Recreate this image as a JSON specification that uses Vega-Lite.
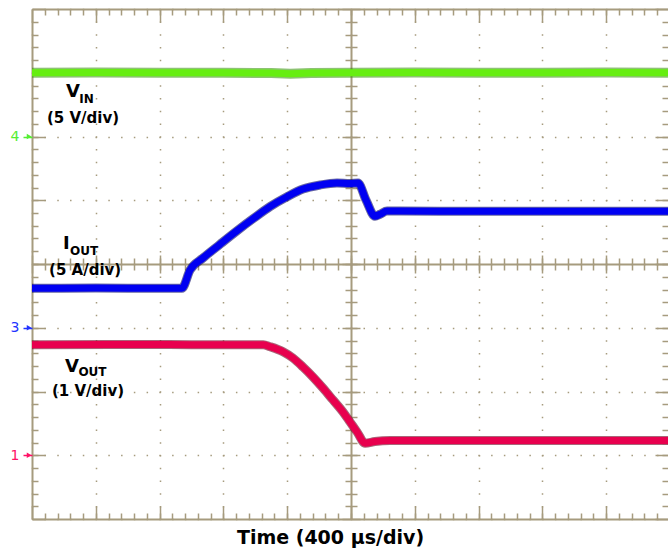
{
  "$schema": "https://vega.github.io/schema/vega-lite/v6.json",
  "width": 636,
  "height": 510,
  "autosize": {"type": "none"},
  "padding": {"left": 32, "top": 9, "right": 0, "bottom": 29},
  "background": "white",
  "config": {
    "view": {"stroke": null},
    "axis": {
      "domainColor": "#a69b7e",
      "tickColor": "#a69b7e",
      "gridColor": "#a69b7e",
      "domainWidth": 2,
      "tickWidth": 1.5,
      "labels": false,
      "grid": false,
      "domain": false,
      "ticks": true
    }
  },
  "datasets": {
    "vin": [
      {"t": 0, "v": 7.0}, {"t": 400, "v": 7.005}, {"t": 800, "v": 7.0}, {"t": 1200, "v": 7.0},
      {"t": 1500, "v": 6.995}, {"t": 1620, "v": 6.985}, {"t": 1750, "v": 6.995}, {"t": 2000, "v": 7.0},
      {"t": 2400, "v": 7.005}, {"t": 2800, "v": 7.0}, {"t": 3200, "v": 7.0}, {"t": 3600, "v": 7.005},
      {"t": 3987.5, "v": 7.0}
    ],
    "iout": [
      {"t": 0, "v": 3.62}, {"t": 400, "v": 3.622}, {"t": 800, "v": 3.62}, {"t": 940, "v": 3.62},
      {"t": 991, "v": 3.906}, {"t": 1072, "v": 4.094}, {"t": 1179, "v": 4.31}, {"t": 1285, "v": 4.52},
      {"t": 1386, "v": 4.71}, {"t": 1492, "v": 4.9}, {"t": 1599, "v": 5.055}, {"t": 1699, "v": 5.176},
      {"t": 1806, "v": 5.239}, {"t": 1912, "v": 5.271}, {"t": 1994, "v": 5.264}, {"t": 2044, "v": 5.27},
      {"t": 2094, "v": 5.004}, {"t": 2150, "v": 4.75}, {"t": 2182, "v": 4.78}, {"t": 2226, "v": 4.83},
      {"t": 2307, "v": 4.83}, {"t": 2800, "v": 4.828}, {"t": 3400, "v": 4.828}, {"t": 3987.5, "v": 4.826}
    ],
    "vout": [
      {"t": 0, "v": 2.735}, {"t": 500, "v": 2.737}, {"t": 1000, "v": 2.735}, {"t": 1450, "v": 2.733},
      {"t": 1492, "v": 2.703}, {"t": 1574, "v": 2.624}, {"t": 1636, "v": 2.525}, {"t": 1699, "v": 2.384},
      {"t": 1762, "v": 2.227}, {"t": 1824, "v": 2.055}, {"t": 1887, "v": 1.867}, {"t": 1950, "v": 1.678},
      {"t": 1994, "v": 1.522}, {"t": 2038, "v": 1.365}, {"t": 2088, "v": 1.19}, {"t": 2150, "v": 1.215},
      {"t": 2245, "v": 1.23}, {"t": 2600, "v": 1.232}, {"t": 3200, "v": 1.23}, {"t": 3987.5, "v": 1.231}
    ],
    "big": [
      {"txt": "V", "t": 213, "v": 6.62},
      {"txt": "I", "t": 194, "v": 4.235},
      {"txt": "V", "t": 207, "v": 2.306}
    ],
    "sub": [
      {"txt": "IN", "t": 297, "v": 6.525},
      {"txt": "OUT", "t": 238, "v": 4.141},
      {"txt": "OUT", "t": 291, "v": 2.243}
    ],
    "unit": [
      {"txt": "(5 V/div)", "t": 94, "v": 6.212},
      {"txt": "(5 A/div)", "t": 107, "v": 3.827},
      {"txt": "(1 V/div)", "t": 125, "v": 1.929}
    ],
    "markers": [
      {"ch": "4", "t": -18, "v": 6},
      {"ch": "3", "t": -18, "v": 3},
      {"ch": "1", "t": -18, "v": 1}
    ]
  },
  "resolve": {"axis": {"x": "independent", "y": "independent"}},
  "layer": [
    {
      "data": {"name": "vin"},
      "mark": {"type": "line", "color": "#2f8f00", "strokeWidth": 10, "opacity": 0.55, "clip": true},
      "encoding": {
        "x": {"field": "t", "type": "quantitative", "scale": {"domain": [0, 3987.5], "nice": false, "zero": false},
          "axis": {"orient": "bottom", "values": [0, 400, 800, 1200, 1600, 2000, 2400, 2800, 3200, 3600], "domain": true, "tickSize": -13,
            "grid": true, "gridDash": [1.5, 11.25], "gridDashOffset": 0.75, "gridWidth": 1.5,
            "title": "Time (400 µs/div)", "titleX": 298, "titleY": 24, "titleAlign": "center", "titleBaseline": "alphabetic",
            "titleFont": "DejaVu Sans", "titleFontWeight": "bold", "titleFontSize": 19, "titleColor": "#000000", "titlePadding": 0}},
        "y": {"field": "v", "type": "quantitative", "scale": {"domain": [0, 8], "nice": false, "zero": false},
          "axis": {"orient": "left", "values": [0, 1, 2, 3, 4, 5, 6, 7, 8], "domain": true, "tickSize": -13,
            "grid": true, "gridDash": [1.5, 11.26], "gridDashOffset": 0.75, "gridWidth": 1.5, "title": null}}
      }
    },
    {
      "data": {"name": "vin"},
      "mark": {"type": "line", "color": "#66ee11", "strokeWidth": 7, "clip": true},
      "encoding": {
        "x": {"field": "t", "type": "quantitative", "scale": {"domain": [0, 3987.5], "nice": false, "zero": false},
          "axis": {"orient": "bottom", "values": [80,160,240,320,400,480,560,640,720,800,880,960,1040,1120,1200,1280,1360,1440,1520,1600,1680,1760,1840,1920,2000,2080,2160,2240,2320,2400,2480,2560,2640,2720,2800,2880,2960,3040,3120,3200,3280,3360,3440,3520,3600,3680,3760,3840,3920], "tickSize": -6, "title": null}},
        "y": {"field": "v", "type": "quantitative", "scale": {"domain": [0, 8], "nice": false, "zero": false},
          "axis": {"orient": "left", "values": [0.2,0.4,0.6,0.8,1,1.2,1.4,1.6,1.8,2,2.2,2.4,2.6,2.8,3,3.2,3.4,3.6,3.8,4,4.2,4.4,4.6,4.8,5,5.2,5.4,5.6,5.8,6,6.2,6.4,6.6,6.8,7,7.2,7.4,7.6,7.8], "tickSize": -6, "title": null}}
      }
    },
    {
      "data": {"name": "iout"},
      "mark": {"type": "line", "color": "#000066", "strokeWidth": 9, "opacity": 0.6, "clip": true, "interpolate": "monotone"},
      "encoding": {
        "x": {"field": "t", "type": "quantitative", "scale": {"domain": [0, 3987.5], "nice": false, "zero": false},
          "axis": {"orient": "top", "values": [0, 400, 800, 1200, 1600, 2000, 2400, 2800, 3200, 3600], "domain": true, "tickSize": -13, "title": null}},
        "y": {"field": "v", "type": "quantitative", "scale": {"domain": [0, 8], "nice": false, "zero": false},
          "axis": {"orient": "right", "values": [0, 1, 2, 3, 4, 5, 6, 7, 8], "tickSize": -13, "title": null}}
      }
    },
    {
      "data": {"name": "iout"},
      "mark": {"type": "line", "color": "#0000f2", "strokeWidth": 7, "clip": true, "interpolate": "monotone"},
      "encoding": {
        "x": {"field": "t", "type": "quantitative", "scale": {"domain": [0, 3987.5], "nice": false, "zero": false},
          "axis": {"orient": "top", "values": [80,160,240,320,400,480,560,640,720,800,880,960,1040,1120,1200,1280,1360,1440,1520,1600,1680,1760,1840,1920,2000,2080,2160,2240,2320,2400,2480,2560,2640,2720,2800,2880,2960,3040,3120,3200,3280,3360,3440,3520,3600,3680,3760,3840,3920], "tickSize": -6, "title": null}},
        "y": {"field": "v", "type": "quantitative", "scale": {"domain": [0, 8], "nice": false, "zero": false},
          "axis": {"orient": "right", "values": [0.2,0.4,0.6,0.8,1,1.2,1.4,1.6,1.8,2,2.2,2.4,2.6,2.8,3,3.2,3.4,3.6,3.8,4,4.2,4.4,4.6,4.8,5,5.2,5.4,5.6,5.8,6,6.2,6.4,6.6,6.8,7,7.2,7.4,7.6,7.8], "tickSize": -6, "title": null}}
      }
    },
    {
      "data": {"name": "vout"},
      "mark": {"type": "line", "color": "#700020", "strokeWidth": 9, "opacity": 0.6, "clip": true, "interpolate": "monotone"},
      "encoding": {
        "x": {"field": "t", "type": "quantitative", "scale": {"domain": [0, 3987.5], "nice": false, "zero": false},
          "axis": {"orient": "bottom", "offset": -255, "domain": true, "ticks": false, "title": null}},
        "y": {"field": "v", "type": "quantitative", "scale": {"domain": [0, 8], "nice": false, "zero": false},
          "axis": {"orient": "left", "offset": -319, "domain": true, "ticks": false, "title": null}}
      }
    },
    {
      "data": {"name": "vout"},
      "mark": {"type": "line", "color": "#e8004e", "strokeWidth": 7, "clip": true, "interpolate": "monotone"},
      "encoding": {
        "x": {"field": "t", "type": "quantitative", "scale": {"domain": [0, 3987.5], "nice": false, "zero": false},
          "axis": {"orient": "bottom", "offset": -261, "values": [80,160,240,320,400,480,560,640,720,800,880,960,1040,1120,1200,1280,1360,1440,1520,1600,1680,1760,1840,1920,2000,2080,2160,2240,2320,2400,2480,2560,2640,2720,2800,2880,2960,3040,3120,3200,3280,3360,3440,3520,3600,3680,3760,3840,3920], "tickSize": 12, "title": null}},
        "y": {"field": "v", "type": "quantitative", "scale": {"domain": [0, 8], "nice": false, "zero": false},
          "axis": {"orient": "left", "offset": -325, "values": [0.2,0.4,0.6,0.8,1,1.2,1.4,1.6,1.8,2,2.2,2.4,2.6,2.8,3,3.2,3.4,3.6,3.8,4,4.2,4.4,4.6,4.8,5,5.2,5.4,5.6,5.8,6,6.2,6.4,6.6,6.8,7,7.2,7.4,7.6,7.8], "tickSize": 12, "title": null}}
      }
    },
    {
      "data": {"name": "big"},
      "mark": {"type": "text", "align": "left", "baseline": "alphabetic", "font": "DejaVu Sans", "fontWeight": "bold", "fontSize": 18, "color": "#000000"},
      "encoding": {
        "x": {"field": "t", "type": "quantitative", "scale": {"domain": [0, 3987.5], "nice": false, "zero": false},
          "axis": {"orient": "bottom", "offset": -264, "values": [0, 400, 800, 1200, 1600, 2000, 2400, 2800, 3200, 3600], "tickSize": 18, "title": null}},
        "y": {"field": "v", "type": "quantitative", "scale": {"domain": [0, 8], "nice": false, "zero": false},
          "axis": {"orient": "left", "offset": -328, "values": [0, 1, 2, 3, 4, 5, 6, 7, 8], "tickSize": 18, "title": null}},
        "text": {"field": "txt"}
      }
    },
    {
      "data": {"name": "sub"},
      "mark": {"type": "text", "align": "left", "baseline": "alphabetic", "font": "DejaVu Sans", "fontWeight": "bold", "fontSize": 12, "color": "#000000"},
      "encoding": {
        "x": {"field": "t", "type": "quantitative", "scale": {"domain": [0, 3987.5], "nice": false, "zero": false}, "axis": null},
        "y": {"field": "v", "type": "quantitative", "scale": {"domain": [0, 8], "nice": false, "zero": false}, "axis": null},
        "text": {"field": "txt"}
      }
    },
    {
      "data": {"name": "unit"},
      "mark": {"type": "text", "align": "left", "baseline": "alphabetic", "font": "DejaVu Sans", "fontWeight": "bold", "fontSize": 15, "color": "#000000"},
      "encoding": {
        "x": {"field": "t", "type": "quantitative", "scale": {"domain": [0, 3987.5], "nice": false, "zero": false}, "axis": null},
        "y": {"field": "v", "type": "quantitative", "scale": {"domain": [0, 8], "nice": false, "zero": false}, "axis": null},
        "text": {"field": "txt"}
      }
    },
    {
      "data": {"name": "markers"},
      "mark": {"type": "point", "shape": "triangle-right", "filled": true, "size": 30, "opacity": 1},
      "encoding": {
        "x": {"field": "t", "type": "quantitative", "scale": {"domain": [0, 3987.5], "nice": false, "zero": false}, "axis": null},
        "y": {"field": "v", "type": "quantitative", "scale": {"domain": [0, 8], "nice": false, "zero": false},
          "axis": {"orient": "left", "values": [1, 3, 6], "labels": true,
            "labelExpr": "datum.value == 6 ? '4' : datum.value == 3 ? '3' : '1'",
            "labelFont": "DejaVu Sans", "labelFontSize": 14, "labelPadding": 4, "labelBaseline": "middle",
            "labelColor": {"condition": [{"test": "datum.value == 6", "value": "#55ee33"}, {"test": "datum.value == 3", "value": "#2233ff"}], "value": "#ff1166"},
            "tickColor": {"condition": [{"test": "datum.value == 6", "value": "#55ee33"}, {"test": "datum.value == 3", "value": "#2233ff"}], "value": "#ff1166"},
            "tickSize": 9, "tickWidth": 1.5, "domain": false, "title": null}},
        "color": {"field": "ch", "type": "nominal", "scale": {"domain": ["4", "3", "1"], "range": ["#55ee33", "#2233ff", "#ff1166"]}, "legend": null}
      }
    }
  ]
}
